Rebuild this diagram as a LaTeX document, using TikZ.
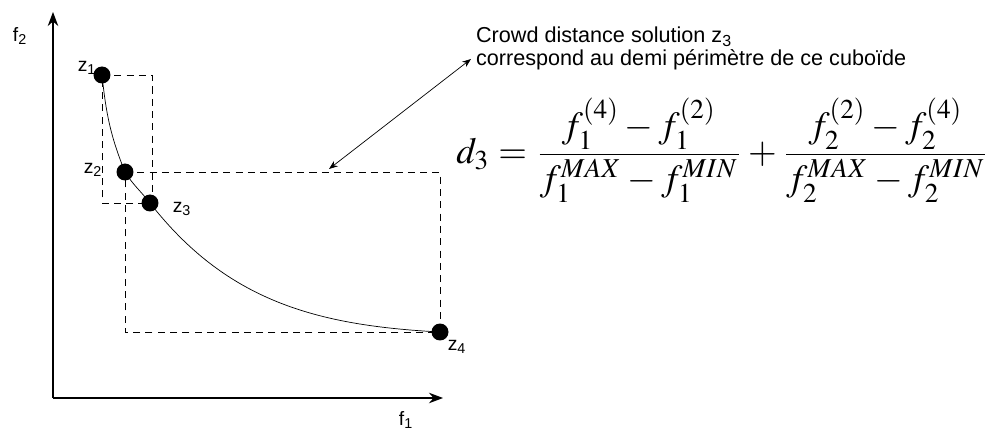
\documentclass[tikz,border=0pt]{standalone}
\usepackage{amsmath}
\usepackage{mathptmx}
\usepackage{fontspec}
\setmainfont{Liberation Sans}
\usetikzlibrary{arrows.meta,positioning}

\begin{document}
\begin{tikzpicture}[
    x=0.02cm, y=-0.02cm,
    pt/.style={circle, fill=black, inner sep=0pt, minimum size=0.34cm},
    lbl/.style={font=\fontsize{11}{12}\selectfont, inner sep=1pt},
    cube/.style={dashed, dash pattern=on 4pt off 3pt, thin},
    axis/.style={-{Stealth[length=8pt,width=6pt]}, thick}
]
\useasboundingbox (0,0) rectangle (995,432);
% axes
\coordinate (o) at (53,398);
\coordinate (ytip) at (53,12);
\coordinate (xtip) at (443,398);
\draw[axis] (o) -- (ytip);
\draw[axis] (o) -- (xtip);
\node[lbl] (f2) at (20,36) {f\textsubscript{2}};
\node[lbl] (f1) at (406,420) {f\textsubscript{1}};
% solutions
\node[pt] (z1) at (102,75) {};
\node[pt] (z2) at (125,172) {};
\node[pt] (z3) at (150,203) {};
\node[pt] (z4) at (440,332) {};
\node[lbl] (l1) at (87,68) {z\textsubscript{1}};
\node[lbl] (l2) at (93,170) {z\textsubscript{2}};
\node[lbl] (l3) at (182,209) {z\textsubscript{3}};
\node[lbl] (l4) at (457,347) {z\textsubscript{4}};
% front
\draw[thin] (z1.center) to[out=-84,in=112] (z2.center)
    to[out=-58,in=128] (z3.center) to[out=-52,in=177] (z4.center);
% cuboids
\draw[cube] (z1.center) -| (152,203) -| (z1.center);
\draw[cube] (z2.center) -| (z4.center) -| (z2.center);
% note
\node[lbl, font=\fontsize{12.3}{12.8}\selectfont, anchor=north west, align=left] (note) at (474,25)
    {Crowd distance solution z\textsubscript{3}\\correspond au\ demi p\'erim\`etre de ce cubo\"ide};
\coordinate (a0) at (329,169);
\coordinate (a1) at (471,59);
\draw[{Stealth[length=5pt]}-{Stealth[length=5pt]}, thin] (a0) -- (a1);
% formula
\node[inner sep=0pt, scale=2.1] (d3) at (723,150)
    {$d_3=\dfrac{f_1^{(4)}-f_1^{(2)}}{f_1^{MAX}-f_1^{MIN}}+\dfrac{f_2^{(2)}-f_2^{(4)}}{f_2^{MAX}-f_2^{MIN}}$};
\end{tikzpicture}
\end{document}
